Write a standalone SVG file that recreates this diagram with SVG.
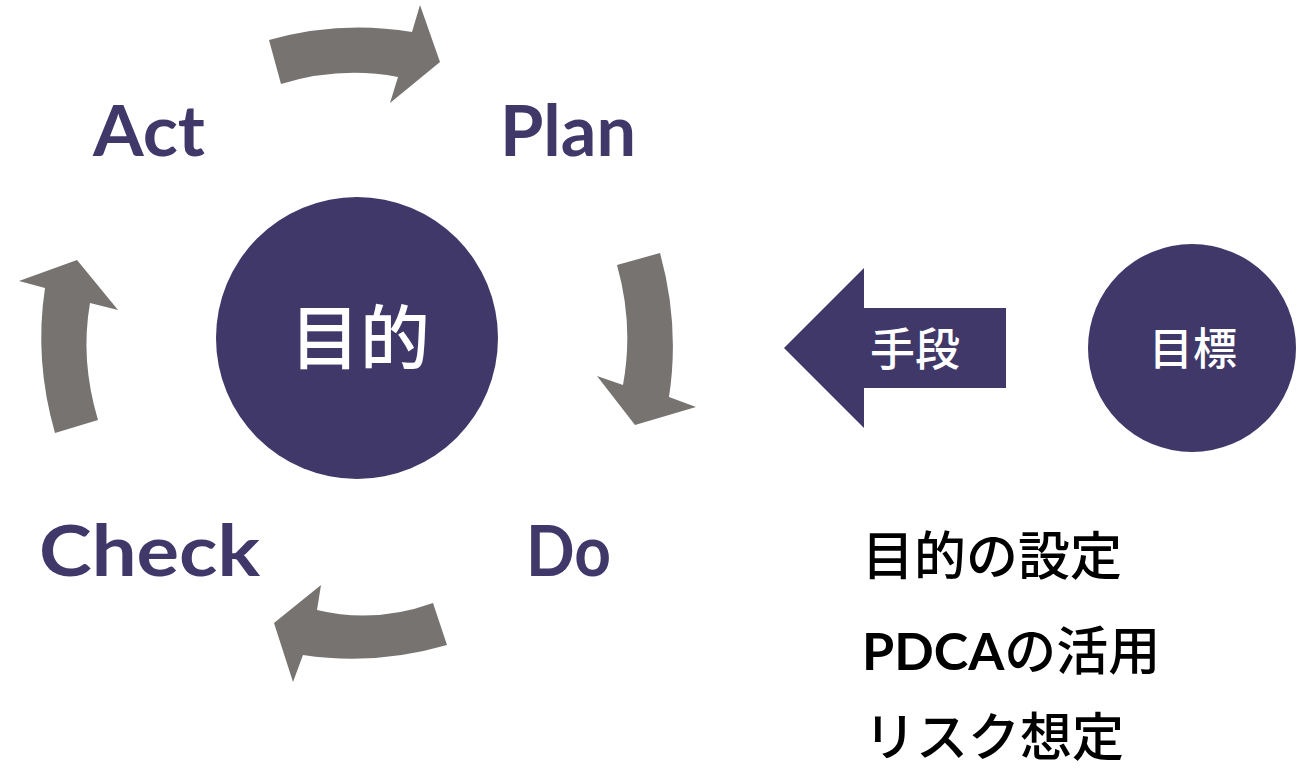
<svg xmlns="http://www.w3.org/2000/svg" width="1312" height="771" viewBox="0 0 1312 771">
  <style>
    .cyc { fill: #767371; }
    .purple { fill: #3f3869; }
    .lbl { font-family: Lato, "Open Sans", sans-serif; font-weight: 700; font-size: 70px; fill: #3f3869; }
    .wjp { font-family: "Noto Sans CJK JP", sans-serif; font-weight: 500; fill: #ffffff; text-anchor: middle; }
    .bjp { font-family: "Noto Sans CJK JP", sans-serif; font-weight: 500; font-size: 52px; fill: #000000; }
    .lat { font-family: Lato, "Noto Sans CJK JP", sans-serif; font-weight: 700; }
  </style>
  <rect width="1312" height="771" fill="#ffffff"/>

  <g id="connectors">
    <path class="cyc" d="M269,40 Q340,20 412,32 L420,5 L440,62 L390,103 L398,77 Q340,66 281,84 Z"/>
    <path class="cyc" d="M617,265 L660,253 Q680,325 669,397 L696,407 L635,425 L597,376 L623,385 Q634,325 617,265 Z"/>
    <path class="cyc" d="M433,603 L447,645 Q375,666 303,655 L293,682 L274,623 L321,585 L317,610 Q375,624 433,603 Z"/>
    <path class="cyc" d="M55,433 L98,420 Q80,360 90,303 L118,310 L77,260 L19,281 L45,288 Q34,360 55,433 Z"/>
  </g>

  <g id="node-act"><text class="lbl" x="93" y="156" textLength="112" lengthAdjust="spacingAndGlyphs">Act</text></g>
  <g id="node-plan"><text class="lbl" x="500" y="156" textLength="136" lengthAdjust="spacingAndGlyphs">Plan</text></g>
  <g id="node-check"><text class="lbl" x="39" y="576" textLength="221" lengthAdjust="spacingAndGlyphs">Check</text></g>
  <g id="node-do"><text class="lbl" x="526" y="576" textLength="85" lengthAdjust="spacingAndGlyphs">Do</text></g>

  <g id="node-purpose">
    <circle class="purple" cx="357" cy="338" r="141"/>
    <text class="wjp" x="360" y="364" font-size="70">目的</text>
  </g>

  <g id="node-means">
    <polygon class="purple" points="784,348 864,268 864,308 1006,308 1006,388 864,388 864,428"/>
    <text class="wjp" x="915" y="366" font-size="45">手段</text>
  </g>

  <g id="node-goal">
    <circle class="purple" cx="1192" cy="348" r="104"/>
    <text class="wjp" x="1193" y="365" font-size="44">目標</text>
  </g>

  <g id="node-list">
    <text class="bjp" x="862" y="575">目的の設定</text>
    <text class="bjp" x="862" y="670"><tspan class="lat">PDCA</tspan>の活用</text>
    <text class="bjp" x="864" y="756">リスク想定</text>
  </g>
</svg>
